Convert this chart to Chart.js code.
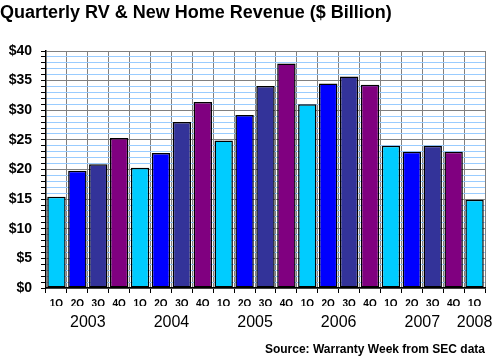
<!DOCTYPE html>
<html>
<head>
<meta charset="utf-8">
<script src="https://cdn.jsdelivr.net/npm/chart.js@4/dist/chart.umd.min.js"></script>
<style>
  html, body { margin: 0; padding: 0; background: #fff; }
  #wrap { width: 500px; height: 361px; }
</style>
</head>
<body>
<div id="wrap"><canvas id="c" width="500" height="361"></canvas></div>
<script>
const quarters = ['1Q','2Q','3Q','4Q','1Q','2Q','3Q','4Q','1Q','2Q','3Q','4Q','1Q','2Q','3Q','4Q','1Q','2Q','3Q','4Q','1Q'];
const revenue = [15.4, 19.8, 20.9, 25.3, 20.3, 22.8, 28.0, 31.4, 24.9, 29.2, 34.1, 37.9, 31.0, 34.5, 35.7, 34.3, 24.0, 23.0, 24.0, 23.0, 14.9];
const yearLabels = ['2003','2004','2005','2006','2007','2008'];
const yearPositions = [1.5, 5.5, 9.5, 13.5, 17.5, 20];
const quarterColors = ['#00CCFF', '#0000FF', '#333399', '#800080'];

Chart.defaults.font.family = '"Liberation Sans", Arial, sans-serif';
Chart.defaults.color = '#000';

new Chart(document.getElementById('c'), {
  type: 'bar',
  data: {
    labels: quarters,
    datasets: [{
      data: revenue,
      backgroundColor: revenue.map((_, i) => quarterColors[i % 4]),
      borderColor: '#000',
      borderWidth: 1.5,
      borderSkipped: false,
      barPercentage: 0.88,
      categoryPercentage: 1.0
    }]
  },
  options: {
    responsive: false,
    animation: false,
    layout: { padding: { left: 0, right: 15, top: 0, bottom: 0 } },
    plugins: {
      legend: { display: false },
      tooltip: { enabled: false },
      title: {
        display: true,
        text: 'Quarterly RV & New Home Revenue ($ Billion)',
        align: 'start',
        color: '#000',
        font: { size: 18, weight: 'bold' },
        padding: { top: 2, bottom: 27.4 }
      },
      subtitle: {
        display: true,
        position: 'bottom',
        align: 'end',
        text: 'Source: Warranty Week from SEC data',
        color: '#000',
        font: { size: 12, weight: 'bold' },
        padding: { top: 12.6, bottom: 4 }
      }
    },
    scales: {
      x: {
        type: 'category',
        position: 'bottom',
        weight: 0,
        offset: true,
        grid: {
          offset: true,
          color: '#808080',
          lineWidth: 1,
          tickColor: '#000',
          tickLength: 5,
          drawTicks: true
        },
        border: { color: '#000', width: 1.5 },
        ticks: {
          font: { size: 10, weight: 'bold' },
          padding: 5,
          maxRotation: 0,
          autoSkip: false
        },
        afterFit: s => { s.height = 18; }
      },
      year: {
        type: 'linear',
        position: 'bottom',
        weight: 1,
        min: -0.5,
        max: 20.5,
        offset: false,
        grid: { display: false, drawTicks: false },
        border: { display: false },
        afterBuildTicks: s => { s.ticks = yearPositions.map(v => ({ value: v })); },
        ticks: {
          font: { size: 16 },
          padding: 6.5,
          maxRotation: 0,
          autoSkip: false,
          callback: v => yearLabels[yearPositions.indexOf(v)]
        },
        afterFit: s => { s.height = 24; }
      },
      y: {
        min: 0,
        max: 40,
        grid: {
          color: c => (c.tick && c.tick.value % 5 === 0) ? '#808080' : '#99CCFF',
          lineWidth: 1,
          tickColor: '#000',
          tickLength: 5
        },
        border: { color: '#000', width: 1.5 },
        ticks: {
          stepSize: 1,
          maxTicksLimit: 100,
          autoSkip: false,
          padding: 9,
          font: { size: 14, weight: 'bold' },
          callback: v => (v % 5 === 0) ? '$' + v : ''
        },
        afterFit: s => { s.width = 46; }
      }
    }
  }
});
</script>
</body>
</html>
